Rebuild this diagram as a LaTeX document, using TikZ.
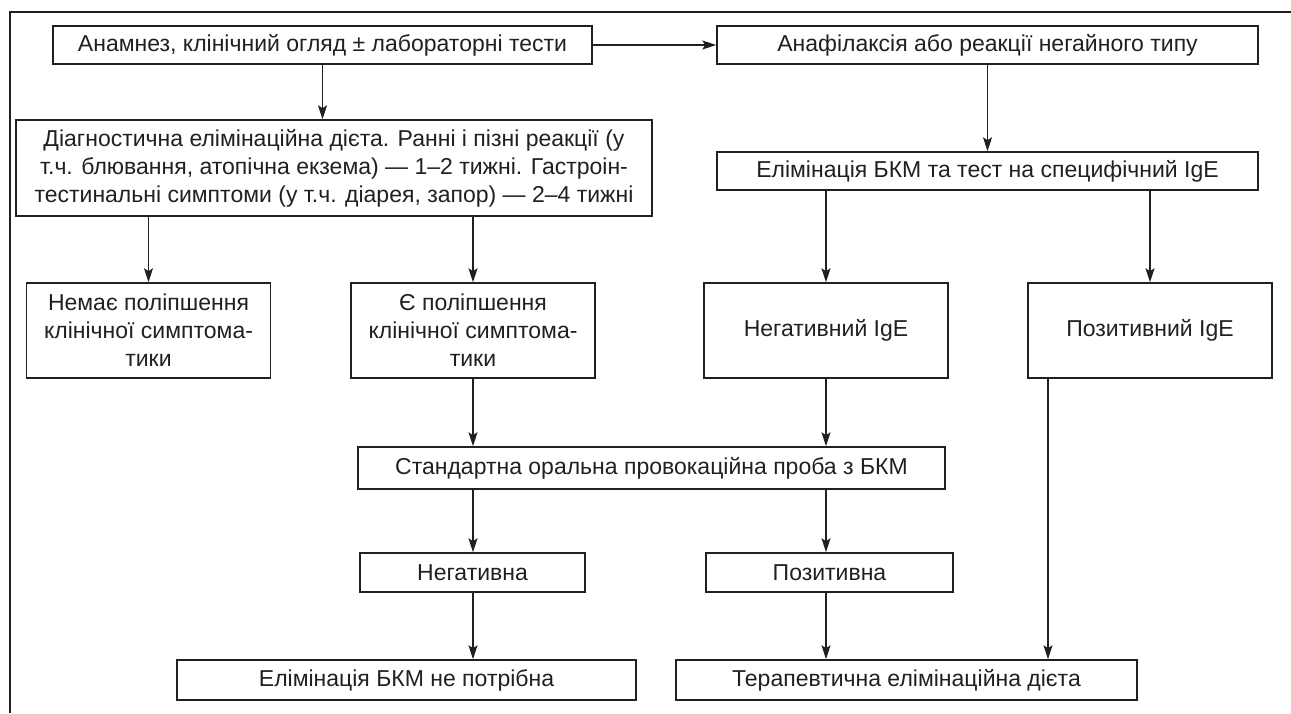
\documentclass[tikz,border=0pt]{standalone}
\usepackage{fontspec}
\setmainfont{Liberation Sans}
\usetikzlibrary{arrows.meta,calc}
\definecolor{ink}{RGB}{35,31,32}
\begin{document}
\begin{tikzpicture}[x=1pt,y=-1pt,
  box/.style={draw=ink,line width=1.5pt,inner sep=0pt,align=center,text=ink,
    font=\fontsize{23}{28}\selectfont},
  arr/.style={draw=ink,line width=1.2pt,-{Stealth[length=14pt,width=9pt,inset=3pt]}}]
\useasboundingbox (0,0) rectangle (1291,713);
\draw[ink,line width=1.5pt] (1291,12) -- (10,12) -- (10,713);
% boxes
\node[box,minimum width=539pt,minimum height=38pt] (b1) at (322.5,45) {Анамнез, клінічний огляд ± лабораторні тести};
\node[box,minimum width=541pt,minimum height=38pt] (b3) at (987.5,45) {Анафілаксія або реакції негайного типу};
\node[box,minimum width=636pt,minimum height=96pt] (b2) at (334,168) {Діагностична елімінаційна дієта. Ранні і пізні реакції (у\\т.ч. блювання, атопічна екзема) — 1–2 тижні. Гастроін-\\тестинальні симптоми (у т.ч. діарея, запор) — 2–4 тижні};
\node[box,minimum width=541pt,minimum height=38pt] (b4) at (987.5,171) {Елімінація БКМ та тест на специфічний IgE};
\node[box,minimum width=244pt,minimum height=95pt] (b5) at (148.5,330.5) {Немає поліпшення\\клінічної симптома-\\тики};
\node[box,minimum width=244pt,minimum height=95pt] (b6) at (473,330.5) {Є поліпшення\\клінічної симптома-\\тики};
\node[box,minimum width=244pt,minimum height=95pt] (b7) at (826,330.5) {Негативний IgE};
\node[box,minimum width=244pt,minimum height=95pt] (b8) at (1150,330.5) {Позитивний IgE};
\node[box,minimum width=587pt,minimum height=42pt] (b9) at (651.5,468) {Стандартна оральна провокаційна проба з БКМ};
\node[box,minimum width=225pt,minimum height=39pt] (b10) at (472.5,572.5) {Негативна};
\node[box,minimum width=247pt,minimum height=39pt] (b11) at (829.5,572.5) {Позитивна};
\node[box,minimum width=459pt,minimum height=40pt] (b12) at (406.5,680) {Елімінація БКМ не потрібна};
\node[box,minimum width=461pt,minimum height=40pt] (b13) at (906.5,680) {Терапевтична елімінаційна дієта};
\coordinate (c1048) at (1048,0);
% connectors
\draw[arr] (b1.east) -- (b3.west);
\draw[arr] (b1.south) -- (b1.south |- b2.north);
\draw[arr] (b3.south) -- (b4.north);
\draw[arr] (b5.north |- b2.south) -- (b5.north);
\draw[arr] (b6.north |- b2.south) -- (b6.north);
\draw[arr] (b7.north |- b4.south) -- (b7.north);
\draw[arr] (b8.north |- b4.south) -- (b8.north);
\draw[arr] (b6.south) -- (b6.south |- b9.north);
\draw[arr] (b7.south) -- (b7.south |- b9.north);
\draw[arr] (b9.south -| b6) -- (b10.north -| b6);
\draw[arr] (b9.south -| b7) -- (b11.north -| b7);
\draw[arr] (b10.south -| b6) -- (b12.north -| b6);
\draw[arr] (b11.south -| b7) -- (b13.north -| b7);
\draw[arr] (b8.south -| c1048) -- (b13.north -| c1048);
\end{tikzpicture}
\end{document}
